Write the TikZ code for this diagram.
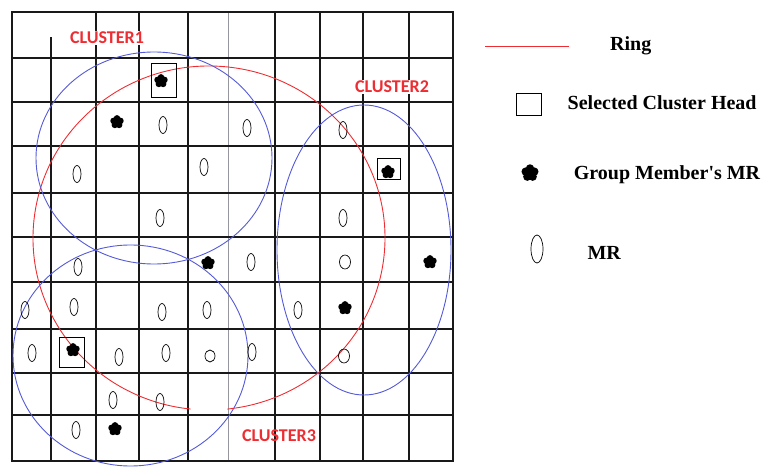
\documentclass[tikz,border=0pt]{standalone}
\usepackage{fontspec}
\setmainfont{Liberation Serif}
\newfontfamily\clusterfont{Carlito}
\usetikzlibrary{shapes.geometric, positioning}
\definecolor{ringred}{RGB}{238,45,50}
\definecolor{clusterblue}{RGB}{85,90,215}
\definecolor{gridgray}{RGB}{150,150,158}

\begin{document}
\begin{tikzpicture}[
        x=1pt, y=-1pt,
        gridline/.style={line width=1.9pt, black!90, line cap=rect},
        ring/.style={ringred, line width=0.9pt},
        cluster/.style={clusterblue, line width=0.9pt},
        clabel/.style={text=ringred, font=\clusterfont\bfseries\fontsize{18}{20}\selectfont, inner sep=1pt},
        mr/.style={draw, ellipse, line width=0.7pt, minimum width=8pt, minimum height=17pt, inner sep=0pt},
        member/.style={circle, minimum size=#1, inner sep=0pt, /utils/exec={\def\flsize{#1}},
            path picture={
                \fill (path picture bounding box.center) circle[radius=0.28*\flsize];
                \foreach \a in {90,162,234,306,378}
                    \fill ([shift={(\a:0.24*\flsize)}]path picture bounding box.center) circle[radius=0.22*\flsize];
            }},
        member/.default=15pt,
        head/.style={draw, rectangle, line width=1pt, minimum width=25pt, minimum height=28pt, inner sep=0pt},
        legend/.style={font=\bfseries\fontsize{20}{24}\selectfont, inner sep=0pt, text height=14pt, text depth=0pt}
    ]
        \useasboundingbox (0,0) rectangle (764,468);

        % Grid
        \foreach \gx in {12,96,139,188,275,320,363,409,453}
            \draw[gridline] (\gx,12) -- (\gx,461);
        \draw[gridline] (51,38) -- (51,461);
        \draw[gridline, gridgray, line width=1pt] (228,12) -- (228,461);
        \foreach \gy in {12,58,102,146,193,237,282,329,373,415,461}
            \draw[gridline] (12,\gy) -- (453,\gy);

        % Ring and clusters
        \draw[ring] (209,238) ++(96:176 and 172) arc[start angle=96, end angle=444, x radius=176, y radius=172];
        \draw[cluster] (154,158) ellipse[x radius=118, y radius=106];
        \draw[cluster] (364,250) ellipse[x radius=87, y radius=145];
        \draw[cluster] (130.5,355.5) ellipse[x radius=117.5, y radius=110.5];

        \node[clabel, fill=white] (cl1) at (107,38) {CLUSTER1};
        \node[clabel, fill=white] (cl2) at (392,87) {CLUSTER2};
        \node[clabel] (cl3) at (279,436) {CLUSTER3};

        % Cluster heads
        \node[head, minimum height=34pt] (h1) at (163.5,81) {};
        \node[head, minimum width=23pt, minimum height=21pt] (h2) at (388.5,169.5) {};
        \node[head, minimum height=30pt] (h3) at (71.5,352) {};

        % Group members
        \node[member] (g1) at (161,81) {};
        \node[member] (g2) at (117,122) {};
        \node[member] (g3) at (388,172) {};
        \node[member] (g4) at (208,263) {};
        \node[member] (g5) at (430,262) {};
        \node[member] (g6) at (345,308) {};
        \node[member] (g7) at (73,350) {};
        \node[member] (g8) at (115,429) {};

        % MRs
        \node[mr] (m1) at (163,125) {};
        \node[mr] (m2) at (247,128) {};
        \node[mr] (m3) at (77,174) {};
        \node[mr] (m4) at (204,167) {};
        \node[mr] (m5) at (160,218) {};
        \node[mr] (m6) at (343,130) {};
        \node[mr] (m7) at (343,218) {};
        \node[mr] (m8) at (78,267) {};
        \node[mr] (m9) at (251,262) {};
        \node[mr, minimum width=11pt, minimum height=14pt] (m10) at (345,262) {};
        \node[mr] (m11) at (25,310) {};
        \node[mr] (m12) at (74,307) {};
        \node[mr] (m13) at (162,312) {};
        \node[mr] (m14) at (207,310) {};
        \node[mr] (m15) at (298,310) {};
        \node[mr] (m16) at (32,353) {};
        \node[mr] (m17) at (119,357) {};
        \node[mr] (m18) at (166,353) {};
        \node[mr, minimum width=10pt, minimum height=12pt] (m19) at (210,356) {};
        \node[mr] (m20) at (252,352) {};
        \node[mr, minimum width=11pt, minimum height=14pt] (m21) at (344,356) {};
        \node[mr] (m22) at (113,400) {};
        \node[mr] (m23) at (160,402) {};
        \node[mr] (m24) at (76,430) {};

        % Legend
        \coordinate (r0) at (485,46);
        \coordinate[right=84pt of r0] (r1);
        \draw[ring] (r0) -- (r1);
        \node[legend, right=41pt of r1, yshift=2pt] (lring) {Ring};
        \node[head, minimum height=22pt] (lhead) at (528.5,105) {};
        \node[legend, right=26pt of lhead, yshift=2pt] (lheadtxt) {Selected Cluster Head};
        \node[member=19pt] (lmember) at (530,173) {};
        \node[legend, right=34pt of lmember] (lmembertxt) {Group Member\textquotesingle s MR};
        \node[mr, minimum width=12pt, minimum height=28pt] (lmr) at (537,249) {};
        \node[legend, right=44pt of lmr, yshift=-4pt] (lmrtxt) {MR};
    \end{tikzpicture}
\end{document}
